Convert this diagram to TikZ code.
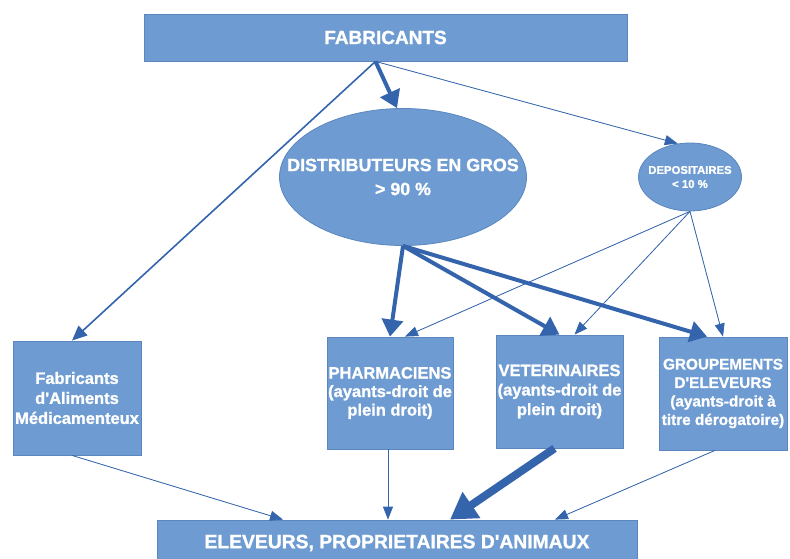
\documentclass[tikz,border=0pt]{standalone}
\usepackage{fontspec}
\setmainfont{Liberation Sans}[BoldFeatures={FakeBold=1.2}]
\usetikzlibrary{arrows.meta,shapes.geometric}
\definecolor{boxblue}{HTML}{6E9BD1}
\definecolor{edgeblue}{HTML}{5B87BE}
\definecolor{arrowblue}{HTML}{3464AC}

\begin{document}
\begin{tikzpicture}[
  x=1pt, y=-1pt,
  box/.style={rectangle, fill=boxblue, draw=edgeblue, line width=0.8pt, inner sep=0pt, align=center, text=white, font=\bfseries\fontsize{16.5}{20}\selectfont},
  oval/.style={ellipse, fill=boxblue, draw=edgeblue, line width=0.8pt, inner ysep=0pt, align=center, text=white},
  lightflow/.style={-{Triangle[length=13pt,width=10pt]}, draw=arrowblue, fill=arrowblue, line width=0.8pt},
  midflow/.style={-{Triangle[length=15pt,width=13pt]}, draw=arrowblue, fill=arrowblue, line width=1.6pt},
  heavyflow/.style={-{Triangle[length=17pt,width=21pt]}, draw=arrowblue, fill=arrowblue, line width=4pt},
  hugeflow/.style={-{Triangle[length=26pt,width=30pt]}, draw=arrowblue, fill=arrowblue, line width=8pt}
]
  \useasboundingbox (0,0) rectangle (790,559);
  \node[box, minimum width=483pt, minimum height=47pt, font=\bfseries\fontsize{19}{20}\selectfont] (fab) at (385.5,37.5) {FABRICANTS};
  \node[oval, inner xsep=-34pt, minimum width=247pt, minimum height=137pt, font=\bfseries\fontsize{17.8}{24}\selectfont] (distr) at (403,177) {DISTRIBUTEURS EN GROS\\> 90 \%};
  \node[oval, inner xsep=-9pt, minimum width=103pt, minimum height=68pt, font=\bfseries\fontsize{11.3}{14}\selectfont] (depos) at (690,177) {DEPOSITAIRES\\< 10 \%};
  \node[box, minimum width=128pt, minimum height=114pt] (aliments) at (77,398) {Fabricants\\d\textquotesingle Aliments\\Médicamenteux};
  \node[box, minimum width=126pt, minimum height=112pt, font=\bfseries\fontsize{16.5}{18.5}\selectfont] (pharm) at (390,393) {PHARMACIENS\\(ayants-droit de\\plein droit)};
  \node[box, minimum width=127pt, minimum height=113pt, font=\bfseries\fontsize{16.5}{19.5}\selectfont] (vet) at (559.5,391.5) {VETERINAIRES\\(ayants-droit de\\plein droit)};
  \node[box, minimum width=128pt, minimum height=113pt, font=\bfseries\fontsize{15.3}{18.5}\selectfont] (group) at (723,393.5) {GROUPEMENTS\\D\textquotesingle ELEVEURS\\(ayants-droit à\\titre dérogatoire)};
  \node[box, minimum width=480pt, minimum height=46pt, font=\bfseries\fontsize{19.3}{20}\selectfont] (elev) at (397,543) {ELEVEURS, PROPRIETAIRES D\textquotesingle ANIMAUX};

  \coordinate (hub) at ([xshift=-10pt]fab.south);
  \draw[midflow] (hub) -- ([xshift=-5pt]aliments.north);
  \draw[heavyflow] (hub) -- ([xshift=-6pt]distr.north);
  \draw[lightflow] (hub) -- (depos.110);

  \draw[heavyflow] (distr.south) -- (pharm.north);
  \draw[heavyflow] (distr.south) -- (vet.north);
  \draw[heavyflow] (distr.south) -- ([xshift=-16pt]group.north);

  \draw[lightflow] (depos.south) -- ([xshift=15pt]pharm.north);
  \draw[lightflow] (depos.south) -- ([xshift=15pt]vet.north);
  \draw[lightflow] (depos.south) -- (group.north);

  \draw[lightflow] ([xshift=-5pt]aliments.south) -- ([xshift=-114pt]elev.north);
  \draw[lightflow] ([xshift=-2pt]pharm.south) -- ([xshift=-9pt]elev.north);
  \draw[hugeflow] ([xshift=-5pt]vet.south) -- ([xshift=53pt]elev.north);
  \draw[lightflow] ([xshift=-8pt]group.south) -- ([xshift=158pt]elev.north);
\end{tikzpicture}
\end{document}
